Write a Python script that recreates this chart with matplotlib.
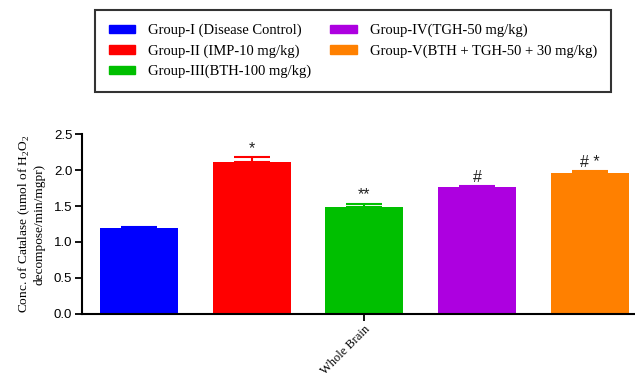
import matplotlib
matplotlib.use('Agg')
import matplotlib.pyplot as plt
from matplotlib.patches import Patch
import numpy as np

plt.rcParams['mathtext.fontset'] = 'custom'
plt.rcParams['mathtext.rm'] = 'Liberation Serif'

# values
groups = ['Group-I (Disease Control)', 'Group-II (IMP-10 mg/kg)',
          'Group-III(BTH-100 mg/kg)', 'Group-IV(TGH-50 mg/kg)',
          'Group-V(BTH + TGH-50 + 30 mg/kg)']
means = [1.19, 2.11, 1.49, 1.76, 1.96]
sems = [0.02, 0.07, 0.04, 0.02, 0.03]
marks = ['', '*', '**', '#', '# *']
colors = ['#0000ff', '#ff0000', '#00bf00', '#ad00e0', '#ff8000']
xlabel_text = 'Whole Brain'

serif = ['Liberation Serif', 'DejaVu Serif']
sans = ['Liberation Sans', 'DejaVu Sans']

fig = plt.figure(figsize=(6.35, 3.73), dpi=100)
ax = fig.add_axes([0.129, 0.1595, 0.871, 0.48])

x = np.arange(len(means))
for i in range(len(means)):
    ax.bar(x[i], means[i], width=0.69, color=colors[i], zorder=2)
    ax.errorbar(x[i], means[i], yerr=[[0], [sems[i]]], color=colors[i],
                capsize=13, elinewidth=1.5, capthick=1.5, fmt='none', zorder=1)
    if marks[i]:
        ax.text(x[i], means[i] + sems[i] + 0.02, marks[i], ha='center', va='bottom',
                fontsize=11.5, family=sans, color='#222222')

ax.set_xlim(-0.505, 4.4)
ax.set_ylim(0, 2.5)
ax.set_yticks(np.arange(0, 2.51, 0.5))
ax.set_yticklabels([f'{v:.1f}' for v in np.arange(0, 2.51, 0.5)], family=sans, fontsize=9.5)
ax.set_xticks([2])
ax.set_xticklabels([xlabel_text], rotation=45, ha='right', rotation_mode='anchor',
                   family=serif, fontsize=9)
ax.tick_params(axis='both', length=5, width=1.3, pad=2)
for s in ['top', 'right']:
    ax.spines[s].set_visible(False)
for s in ['left', 'bottom']:
    ax.spines[s].set_linewidth(1.5)

ax.set_ylabel('Conc. of Catalase (umol of H$_2$O$_2$\ndecompose/min/mgpr)',
              family=serif, fontsize=9.6, labelpad=6)

handles = [Patch(facecolor=c, edgecolor=c) for c in colors]
leg = fig.legend(handles, groups, loc='upper left', bbox_to_anchor=(0.1496, 0.973),
                 ncol=2, prop={'family': serif, 'size': 10.5}, frameon=True,
                 fancybox=False, edgecolor='black', handlelength=1.8,
                 handleheight=0.5, labelspacing=0.47, columnspacing=1.3,
                 borderpad=0.95, handletextpad=0.9, borderaxespad=0)
leg.get_frame().set_linewidth(1.5)

fig.savefig('out.png', dpi=100)
